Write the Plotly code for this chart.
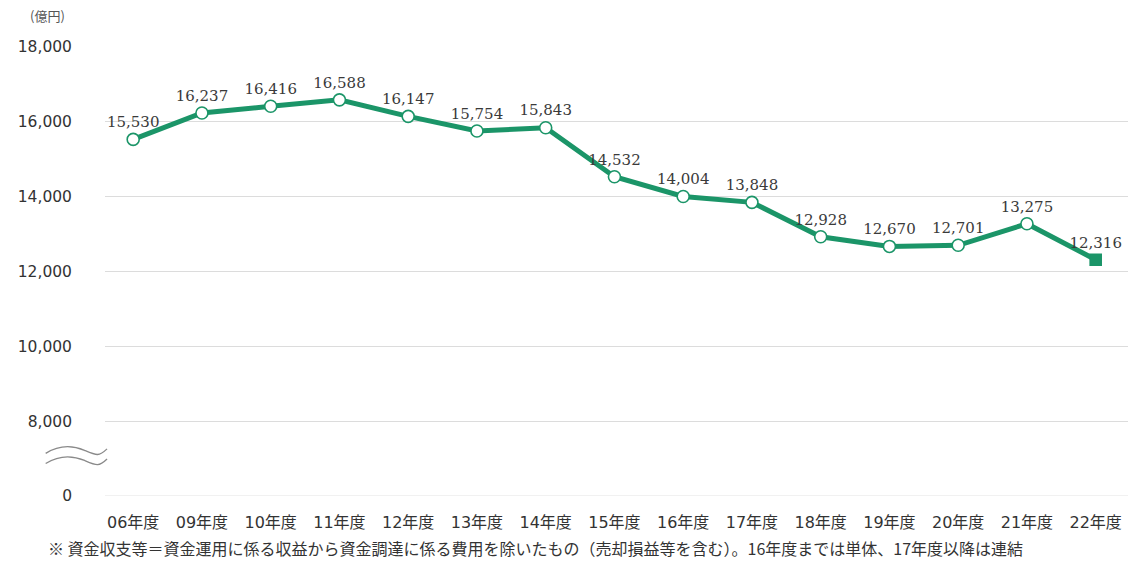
import plotly.graph_objects as go

# Fiscal years and net interest income (億円)
years = ["06年度", "09年度", "10年度", "11年度", "12年度", "13年度", "14年度", "15年度",
         "16年度", "17年度", "18年度", "19年度", "20年度", "21年度", "22年度"]
values = [15530, 16237, 16416, 16588, 16147, 15754, 15843, 14532,
          14004, 13848, 12928, 12670, 12701, 13275, 12316]

# Broken y axis: the bottom tick stands in for zero
tick_vals = [6000, 8000, 10000, 12000, 14000, 16000, 18000]
tick_text = ["0", "8,000", "10,000", "12,000", "14,000", "16,000", "18,000"]

GREEN = "#1b9568"
x_idx = list(range(len(years)))

labels = [f"{v:,}" for v in values]
symbols = ["circle"] * (len(values) - 1) + ["square"]
fills = ["#ffffff"] * (len(values) - 1) + [GREEN]
sizes = [12] * (len(values) - 1) + [11]

fig = go.Figure()
fig.add_trace(go.Scatter(
    x=x_idx, y=values,
    mode="lines+markers+text",
    line=dict(color=GREEN, width=5),
    marker=dict(symbol=symbols, size=sizes, color=fills, opacity=1,
                line=dict(color=GREEN, width=1.6)),
    text=labels,
    textposition="top center",
    textfont=dict(family="DejaVu Serif", size=15, color="#3a3a3a"),
    cliponaxis=False,
    showlegend=False,
))

# Axis-break wave marks below the 8,000 tick
wave_y = [7200, 6930]
for wy in wave_y:
    fig.add_shape(
        type="path",
        xref="paper", yref="y",
        path=(f"M -0.058,{wy - 60} C -0.045,{wy + 160} -0.032,{wy + 160} -0.02,{wy + 20} "
              f"S -0.006,{wy - 150} 0.002,{wy + 60}"),
        line=dict(color="#8a8a8a", width=1.3),
    )

# Faint baseline at the zero tick
fig.add_shape(type="line", xref="paper", yref="y", x0=0, x1=1, y0=6000, y1=6000,
              line=dict(color="#ececec", width=1.5), layer="below")

tick_font = "DejaVu Sans, Noto Sans CJK JP"

fig.update_layout(
    width=1128, height=569,
    margin=dict(l=105, r=0, t=47, b=73),
    paper_bgcolor="white",
    plot_bgcolor="white",
    font=dict(family="Noto Sans CJK JP", color="#333333"),
    xaxis=dict(
        range=[-0.41, 14.47],
        tickmode="array", tickvals=x_idx, ticktext=years,
        tickfont=dict(family=tick_font, size=16, color="#333333"),
        showgrid=False, zeroline=False, showline=False,
        ticks="", ticklabelstandoff=15,
    ),
    yaxis=dict(
        range=[6000, 18000],
        tickmode="array", tickvals=tick_vals, ticktext=tick_text,
        tickfont=dict(family="DejaVu Sans", size=15.5, color="#333333"),
        showgrid=True, gridcolor="#dcdcdc", gridwidth=1.2,
        zeroline=False, showline=False, ticks="",
        ticklabelstandoff=32,
    ),
    annotations=[
        dict(text="(億円)", xref="paper", yref="paper", x=-0.056, y=1.071,
             xanchor="center", yanchor="middle", showarrow=False,
             font=dict(size=13, color="#555555")),
        dict(text="※ 資金収支等＝資金運用に係る収益から資金調達に係る費用を除いたもの（売却損益等を含む）。16年度までは単体、17年度以降は連結",
             xref="paper", yref="paper", x=-0.058, y=-0.116,
             xanchor="left", yanchor="middle", showarrow=False,
             font=dict(size=16, color="#333333")),
    ],
)

fig.write_html("out.html")
